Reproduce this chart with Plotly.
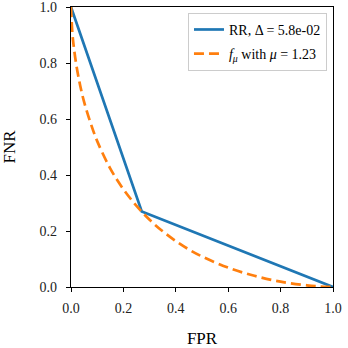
import plotly.graph_objects as go

# randomized response trade-off curve
rr_fpr = [0.0, 0.27, 1.0]
rr_fnr = [1.0, 0.27, 0.0]

# Gaussian DP trade-off curve f_mu, mu = 1.23
gdp_fpr = [0.0, 0.005, 0.01, 0.02, 0.035, 0.05, 0.075, 0.1, 0.15, 0.2, 0.25, 0.3,
           0.35, 0.4, 0.45, 0.5, 0.6, 0.7, 0.8, 0.9, 0.95, 1.0]
gdp_fnr = [1.0, 0.91, 0.863, 0.795, 0.72, 0.661, 0.585, 0.521, 0.423, 0.349, 0.29, 0.24,
           0.199, 0.164, 0.134, 0.109, 0.069, 0.040, 0.019, 0.006, 0.002, 0.0]

fig = go.Figure()

fig.add_trace(go.Scatter(
    x=rr_fpr, y=rr_fnr, mode="lines",
    name="RR, Δ = 5.8e-02",
    legendgroup="rr",
    line=dict(color="#1f77b4", width=2.7),
))
fig.add_trace(go.Scatter(
    x=gdp_fpr, y=gdp_fnr, mode="lines",
    name="<i>f</i><sub><i>μ</i></sub> with <i>μ</i> = 1.23",
    legendgroup="gdp",
    line=dict(color="#ff7f0e", width=2.7, dash="10px,5px", shape="spline"),
))

axis_style = dict(
    range=[0, 1],
    dtick=0.2,
    tickformat=".1f",
    showgrid=False,
    zeroline=False,
    showline=True,
    linecolor="black",
    linewidth=1.2,
    mirror=True,
    ticks="outside",
    ticklen=4,
    tickwidth=1,
    tickcolor="black",
    tickfont=dict(family="Liberation Serif", size=14, color="#222"),
    ticklabeloverflow="allow",
    automargin=False,
)

fig.update_layout(
    width=348, height=348,
    margin=dict(l=71, r=15, t=7, b=61),
    plot_bgcolor="white",
    paper_bgcolor="white",
    font=dict(family="Liberation Serif, DejaVu Serif, serif", color="black", size=16),
    xaxis=dict(axis_style, ticklabelstandoff=4,
               title=dict(text="FPR", font=dict(size=17), standoff=18)),
    yaxis=dict(axis_style, ticklabelstandoff=6,
               title=dict(text="FNR", font=dict(size=17), standoff=20)),
    showlegend=True,
    legend=dict(
        x=0.977, y=0.979, xanchor="right", yanchor="top",
        bgcolor="rgba(255,255,255,0.8)",
        bordercolor="#cccccc", borderwidth=1,
        font=dict(size=14),
        tracegroupgap=3,
    ),
)

# the page body has a default 8px margin; drop it so the figure sits at 0,0
fig.write_html("out.html", config={"displayModeBar": False},
               post_script="document.body.style.margin = '0';")
